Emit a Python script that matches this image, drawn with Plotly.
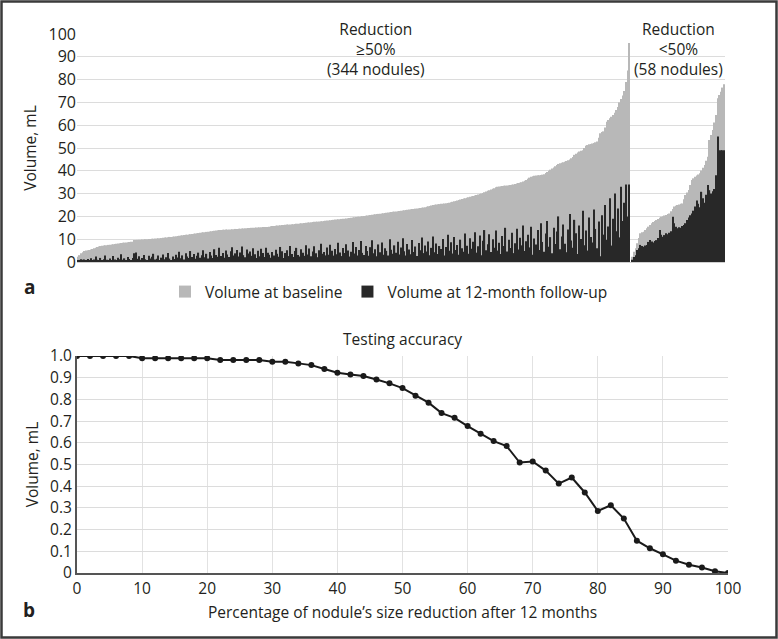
import plotly.graph_objects as go

# ---------------- Panel a data (sorted by baseline volume) ----------------
baseline_ge50 = [
    2.3,3.0,3.8,4.3,4.8,5.0,5.2,5.3,5.5,5.7,6.0,6.3,6.6,6.8,7.0,7.1,7.2,7.3,7.4,7.5,
    7.6,7.7,7.8,7.9,8.0,8.1,8.2,8.3,8.4,8.5,8.6,8.7,8.8,8.9,8.9,9.6,9.7,9.7,9.8,9.8,
    9.9,9.9,10.0,10.0,10.1,10.1,10.2,10.2,10.3,10.3,10.4,10.4,10.5,10.6,10.7,10.8,10.9,11.0,11.0,11.1,
    11.2,11.3,11.4,11.5,11.6,11.7,11.8,11.9,12.0,12.1,12.2,12.3,12.4,12.5,12.6,12.7,12.8,12.9,13.0,13.1,
    13.2,13.3,13.4,13.5,13.6,13.7,13.8,13.9,14.0,14.0,14.1,14.1,14.2,14.2,14.3,14.3,14.4,14.4,14.5,14.5,
    14.6,14.6,14.7,14.7,14.8,14.8,14.9,14.9,15.0,15.0,15.0,15.1,15.1,15.2,15.2,15.3,15.3,15.4,15.4,15.5,
    15.7,15.8,15.8,15.9,16.0,16.0,16.1,16.2,16.2,16.3,16.4,16.4,16.5,16.6,16.6,16.7,16.8,16.8,16.9,17.0,
    17.0,17.1,17.2,17.3,17.3,17.4,17.5,17.6,17.6,17.7,17.8,17.9,17.9,18.0,18.1,18.2,18.2,18.3,18.4,18.5,
    18.6,18.6,18.7,18.8,18.9,19.0,19.0,19.1,19.2,19.3,19.4,19.5,19.6,19.7,19.8,19.9,20.0,20.1,20.2,20.3,
    20.4,20.5,20.6,20.7,20.8,20.9,21.0,21.1,21.2,21.3,21.4,21.5,21.6,21.7,21.8,21.9,22.0,22.1,22.2,22.3,
    22.4,22.5,22.6,22.7,22.8,22.9,23.0,23.1,23.2,23.3,23.4,23.5,23.6,23.7,23.8,23.9,24.0,24.2,24.4,24.6,
    24.8,25.0,25.1,25.2,25.3,25.4,25.5,25.6,25.7,25.8,25.9,26.0,26.2,26.4,26.6,26.8,27.0,27.2,27.4,27.6,
    27.8,28.0,28.2,28.4,28.6,28.8,29.0,29.2,29.4,29.6,29.8,30.0,30.3,30.6,30.9,31.2,31.5,31.8,32.1,32.4,
    32.8,33.0,33.1,33.2,33.3,33.4,33.5,33.6,33.7,33.8,33.9,34.0,34.2,34.4,34.6,34.8,35.0,35.3,35.6,36.0,
    36.5,37.0,37.4,37.6,37.8,37.9,38.0,38.1,38.2,38.3,38.5,39.0,39.5,40.0,40.5,41.0,41.5,42.0,42.5,43.0,
    43.3,43.5,43.8,44.0,44.3,44.6,45.0,45.5,46.0,47.0,47.5,48.0,48.5,48.8,49.0,50.0,51.0,51.3,51.6,51.8,
    52.0,52.2,52.5,52.8,54.5,56.5,57.0,57.3,59.0,61.5,62.3,63.0,63.7,64.5,65.5,66.7,68.0,70.0,71.5,73.0,
    75.0,79.0,84.0,96.0,
]
followup_ge50 = [
    0.8,0.9,1.2,1.0,1.1,0.7,1.3,0.9,1.6,0.8,1.1,2.4,1.0,0.6,1.8,0.9,1.2,2.9,1.0,0.8,
    1.5,0.9,2.6,1.1,0.7,1.9,1.2,3.4,1.0,1.6,0.8,2.2,1.3,0.9,1.7,3.8,4.2,1.4,2.5,1.0,
    1.8,3.1,1.2,0.9,2.7,1.5,2.3,3.6,1.1,1.4,2.8,0.8,1.9,3.3,1.2,2.1,4.0,1.5,0.9,2.4,
    1.3,3.2,2.0,4.5,1.6,2.9,1.1,3.8,2.4,1.7,4.8,2.2,3.5,1.4,2.7,4.1,1.9,3.0,5.2,2.1,
    3.6,1.5,4.4,2.8,1.8,5.6,3.1,2.3,6.2,2.6,4.0,1.9,5.0,3.3,2.2,4.7,6.5,2.9,3.8,5.3,
    2.4,4.2,6.8,3.0,2.1,5.5,3.7,4.6,2.7,6.0,3.4,1.8,4.9,2.5,5.8,3.9,2.2,6.3,4.1,3.2,
    1.9,4.4,2.8,5.4,3.6,2.3,6.6,4.7,1.7,3.9,5.1,2.6,7.0,3.5,2.2,4.8,6.2,3.1,2.4,5.6,
    4.1,2.7,7.4,3.3,5.9,2.5,4.6,6.9,3.8,2.1,5.2,8.0,3.6,4.4,2.9,6.4,3.2,7.6,4.9,2.8,
    5.7,3.4,8.4,4.2,2.6,6.1,3.9,7.8,5.0,2.4,4.5,8.8,3.7,6.6,2.9,5.3,9.2,4.0,3.1,7.0,
    4.8,2.7,6.5,9.5,3.8,5.6,2.5,7.7,4.3,8.6,3.2,6.0,4.9,2.8,10.0,5.4,3.6,7.3,4.1,8.9,
    3.3,6.4,10.4,4.7,2.9,7.9,5.5,3.4,9.6,4.4,6.8,2.6,8.3,5.1,10.8,3.9,7.2,4.6,9.0,3.0,
    6.2,11.2,4.3,8.1,3.5,7.0,5.7,10.1,2.8,6.6,12.0,4.9,8.7,3.7,11.0,5.3,7.5,3.2,9.8,6.0,
    4.5,12.5,7.1,3.6,10.4,5.8,8.9,13.0,4.1,6.9,11.6,3.0,9.3,14.0,5.2,7.8,12.2,4.4,10.0,6.3,
    13.8,5.0,8.4,3.5,11.4,7.0,15.0,4.6,9.8,6.1,12.8,3.9,8.2,14.6,5.5,10.6,7.3,16.0,4.8,9.1,
    12.0,6.4,15.5,3.2,10.3,7.7,14.0,5.3,17.0,8.8,4.5,12.5,18.0,6.7,10.9,3.8,15.0,7.9,13.4,20.0,
    5.6,11.2,16.5,8.0,4.3,14.2,21.0,9.4,6.2,18.5,12.6,3.5,16.0,10.1,22.5,7.4,13.8,5.0,19.5,11.0,
    8.6,23.0,14.5,6.0,17.8,2.5,20.5,12.0,25.0,9.8,15.6,28.0,7.2,19.0,30.0,13.5,23.5,10.8,33.0,18.0,
    26.0,34.0,20.0,34.0,
]
baseline_lt50 = [
    2.3,4.5,6.0,8.2,10.5,12.6,13.0,13.3,14.0,14.8,15.5,16.2,17.0,17.5,18.0,18.4,18.9,19.4,19.9,20.1,
    20.4,20.6,21.0,21.3,22.3,23.3,24.3,24.7,25.0,25.2,25.5,25.7,27.5,29.4,30.5,31.6,33.8,36.0,36.7,37.4,
    37.9,38.4,38.9,40.1,41.3,42.5,44.4,46.2,53.5,55.7,57.9,61.2,64.5,71.8,73.2,74.7,76.5,78.0,
]
followup_lt50 = [
    1.0,2.2,3.0,5.3,6.0,7.5,7.0,6.7,7.2,7.5,8.8,9.6,9.0,8.5,9.2,9.6,10.5,14.0,12.0,11.1,
    11.8,12.6,12.2,12.8,13.5,19.9,17.0,15.5,14.8,15.2,15.0,15.8,16.2,17.0,18.4,19.5,20.5,21.3,22.5,24.3,
    27.0,25.5,24.0,30.8,28.0,26.0,29.5,33.8,31.5,30.0,31.0,32.0,38.0,55.0,49.0,49.0,49.0,49.0,
]
y_ticks_a = [0, 10, 20, 30, 40, 50, 60, 70, 80, 90, 100]

# ---------------- Panel b data ----------------
reduction_pct = [0, 2, 4, 6, 8, 10, 12, 14, 16, 18, 20, 22, 24, 26, 28, 30, 32, 34, 36, 38,
                 40, 42, 44, 46, 48, 50, 52, 54, 56, 58, 60, 62, 64, 66, 68, 70, 72, 74, 76, 78,
                 80, 82, 84, 86, 88, 90, 92, 94, 96, 98, 100]
accuracy = [1.0, 1.0, 1.0, 1.0, 1.0, 0.99, 0.99, 0.99, 0.99, 0.99, 0.99, 0.982, 0.982, 0.982, 0.982,
            0.974, 0.974, 0.966, 0.958, 0.94, 0.923, 0.915, 0.908, 0.892, 0.874, 0.852, 0.817, 0.785,
            0.737, 0.715, 0.677, 0.642, 0.608, 0.585, 0.509, 0.514, 0.472, 0.412, 0.44, 0.371, 0.286,
            0.312, 0.251, 0.149, 0.114, 0.086, 0.057, 0.038, 0.025, 0.008, 0.0]
x_ticks_b = [0, 10, 20, 30, 40, 50, 60, 70, 80, 90, 100]
y_ticks_b = [0, 0.1, 0.2, 0.3, 0.4, 0.5, 0.6, 0.7, 0.8, 0.9, 1.0]
y_ticktext_b = ["0", "0.1", "0.2", "0.3", "0.4", "0.5", "0.6", "0.7", "0.8", "0.9", "1.0"]

# ---------------- Build figure ----------------
W, H = 778, 639
FONT = "Open Sans"
TXT = "#231f20"

n1, n2 = len(baseline_ge50), len(baseline_lt50)
x1 = list(range(n1))
x2 = list(range(n1 + 1, n1 + 1 + n2))

def px_x(p):
    return p / W

def px_y(p):
    return 1 - p / H

fig = go.Figure()
fig.add_trace(go.Bar(x=x1 + x2, y=baseline_ge50 + baseline_lt50, name="Volume at baseline",
                     marker=dict(color="#b8b8b8", line=dict(width=0)), xaxis="x", yaxis="y"))
fig.add_trace(go.Bar(x=x1 + x2, y=followup_ge50 + followup_lt50, name="Volume at 12-month follow-up",
                     marker=dict(color="#282828", line=dict(width=0)), xaxis="x", yaxis="y"))
fig.add_trace(go.Scatter(x=reduction_pct, y=accuracy, mode="lines+markers", showlegend=False,
                         line=dict(color="#1a1a1a", width=2),
                         marker=dict(color="#1a1a1a", size=6), xaxis="x2", yaxis="y2"))

fig.update_layout(
    width=W, height=H, autosize=False,
    margin=dict(l=0, r=0, t=0, b=0, pad=0, autoexpand=False),
    paper_bgcolor="white", plot_bgcolor="white",
    font=dict(family=FONT, size=15, color=TXT),
    barmode="overlay", bargap=0.25,
    showlegend=True,
    legend=dict(orientation="h", x=0.5, xanchor="center", y=px_y(292), yanchor="middle",
                font=dict(size=15.5, color=TXT), itemwidth=30, traceorder="normal",
                bgcolor="rgba(0,0,0,0)"),
    xaxis=dict(domain=[px_x(77), px_x(725)], range=[-0.6, n1 + n2 + 0.6], showticklabels=False,
               ticks="", showgrid=False, showline=True, linecolor="#d0d0d0", linewidth=1,
               zeroline=False, automargin=False),
    yaxis=dict(domain=[px_y(262), px_y(34)], range=[0, 100], tickvals=y_ticks_a,
               showgrid=True, gridcolor="#dcdcdc", gridwidth=1, zeroline=False, showline=False,
               ticks="", tickfont=dict(size=16, color=TXT), automargin=False,
               title=dict(text="Volume, mL", font=dict(size=15.5, color=TXT), standoff=8)),
    xaxis2=dict(domain=[px_x(77), px_x(728)], range=[0, 100], tickvals=x_ticks_b,
                showgrid=True, gridcolor="#e2e2e2", gridwidth=1, zeroline=False,
                showline=True, linecolor="#555555", linewidth=2, ticks="",
                tickfont=dict(size=15.5, color=TXT), anchor="y2", automargin=False,
                title=dict(text="Percentage of nodule\u2019s size reduction after 12 months",
                           font=dict(size=15.5, color=TXT), standoff=10)),
    yaxis2=dict(domain=[px_y(573), px_y(356)], range=[0, 1.0], tickvals=y_ticks_b,
                ticktext=y_ticktext_b, showgrid=True, gridcolor="#dcdcdc", gridwidth=1,
                zeroline=False, showline=True, linecolor="#555555", linewidth=2, ticks="",
                tickfont=dict(size=15.5, color=TXT), anchor="x2", automargin=False,
                title=dict(text="Volume, mL", font=dict(size=15.5, color=TXT), standoff=8)),
)

ann = [
    dict(text="Reduction<br>\u226550%<br>(344 nodules)", x=px_x(376), y=px_y(49)),
    dict(text="Reduction<br>&lt;50%<br>(58 nodules)", x=px_x(678), y=px_y(49)),
    dict(text="Testing accuracy", x=px_x(402), y=px_y(339)),
]
for a in ann:
    fig.add_annotation(text=a["text"], x=a["x"], y=a["y"], xref="paper", yref="paper",
                       showarrow=False, xanchor="center", yanchor="middle",
                       font=dict(size=15.5, color=TXT), align="center")
for lab, yy in (("a", 287), ("b", 610)):
    fig.add_annotation(text="<b>%s</b>" % lab, x=px_x(29), y=px_y(yy), xref="paper", yref="paper",
                       showarrow=False, xanchor="center", yanchor="middle",
                       font=dict(size=19, color=TXT))

fig.add_shape(type="rect", xref="paper", yref="paper", x0=px_x(1.5), x1=px_x(776.5),
              y0=px_y(637.5), y1=px_y(1.5), line=dict(color="#3a3a3a", width=2.5))

fig.write_html("out.html", config={"responsive": False, "displayModeBar": False},
               post_script="document.body.style.margin='0px';document.body.style.padding='0px';"
                           "document.documentElement.style.overflow='hidden';")
